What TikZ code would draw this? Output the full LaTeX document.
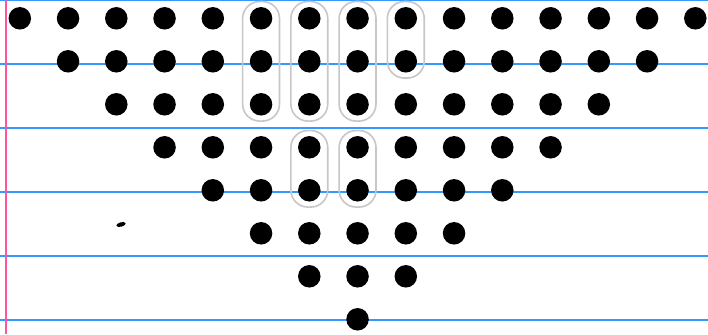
\documentclass[tikz,border=0pt]{standalone}
\usetikzlibrary{fit}
\begin{document}
\begin{tikzpicture}[x=1pt,y=-1pt,
  rule/.style={draw={rgb,255:red,51;green,153;blue,255},line width=1.3pt},
  margin/.style={draw={rgb,255:red,255;green,85;blue,153},line width=2pt},
  dot/.style={circle,fill=black,minimum size=22.5pt,inner sep=0pt},
  group/.style={draw=black!22,line width=1.6pt,rounded corners=17pt,inner xsep=7pt,inner ysep=5.3pt}]
\useasboundingbox (0,0) rectangle (708,334);
\fill[white] (0,0) rectangle (708,334);
% ruled paper
\foreach \yy in {0.6,64,128,192,256,320}
  \draw[rule] (0,\yy) -- (708,\yy);
\draw[margin] (5.7,0) -- (5.7,334);
% dots
\foreach \r in {0,...,7}{
  \pgfmathtruncatemacro{\last}{14-\r}
  \foreach \c in {\r,...,\last}{
    \node[dot] (d-\r-\c) at ({19.8+48.25*\c},{18.3+43*\r}) {};
  }
}
% groups
\node[group,fit=(d-0-5)(d-2-5)] (g1) {};
\node[group,fit=(d-0-6)(d-2-6)] (g2) {};
\node[group,fit=(d-0-7)(d-2-7)] (g3) {};
\node[group,fit=(d-0-8)(d-1-8)] (g4) {};
\node[group,fit=(d-3-6)(d-4-6)] (g5) {};
\node[group,fit=(d-3-7)(d-4-7)] (g6) {};
% stray mark
\fill[black,rotate around={15:(121,224.5)}] (121,224.5) ellipse (4.8pt and 2.2pt);
\end{tikzpicture}
\end{document}
